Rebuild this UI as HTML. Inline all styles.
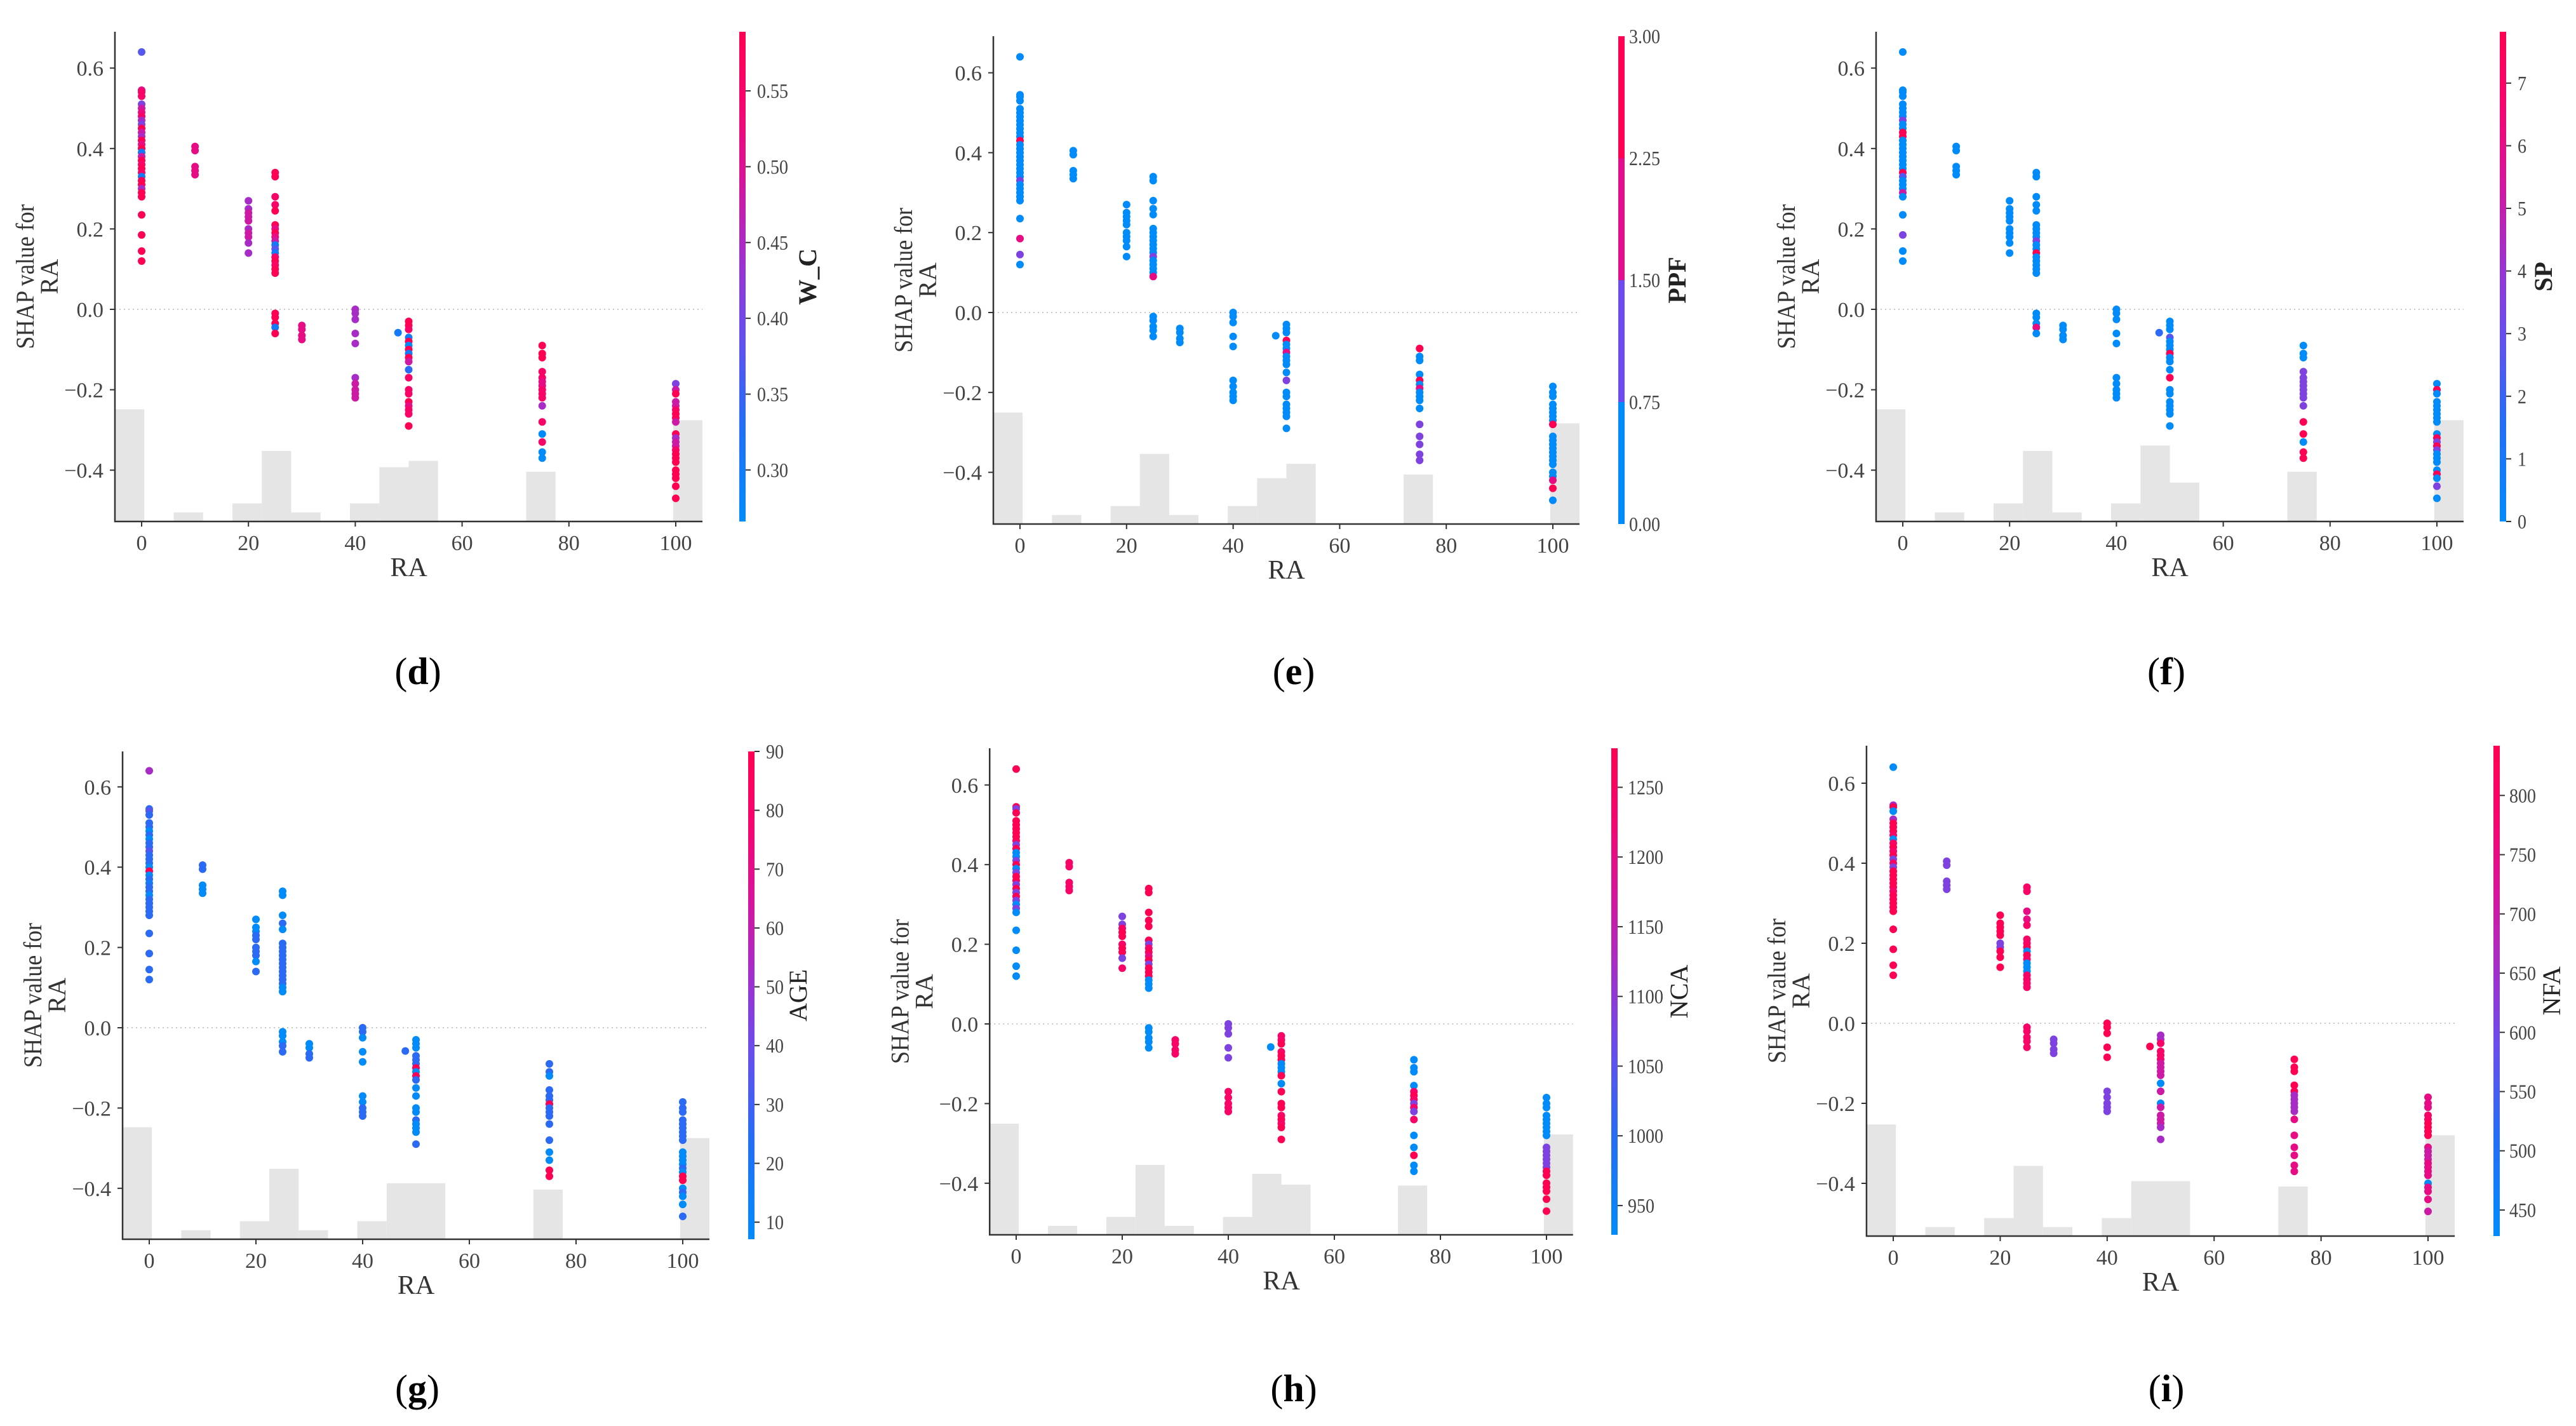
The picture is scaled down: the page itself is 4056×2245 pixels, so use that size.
<!DOCTYPE html>
<html><head><meta charset="utf-8">
<style>
html,body{margin:0;padding:0;background:#fff;}
svg{display:block;}
text{font-family:"Liberation Serif","DejaVu Serif",serif;}
</style></head>
<body>
<svg id="fig" width="4056" height="2245" viewBox="0 0 4056 2245" xmlns="http://www.w3.org/2000/svg">
<rect width="4056" height="2245" fill="#fff"/>
<defs id="defs"></defs>
</svg>
<script>
// ---- shared data ----
const groupX = [0, 10, 20, 25, 30, 40, 48, 50, 75, 100];
const groupY = [
  [0.64,0.545,0.54,0.53,0.51,0.50,0.49,0.48,0.47,0.46,0.45,0.44,0.43,0.42,0.41,0.40,0.39,0.38,0.37,0.36,0.35,0.34,0.33,0.32,0.31,0.30,0.29,0.28,0.235,0.185,0.145,0.12],
  [0.405,0.395,0.355,0.345,0.335],
  [0.27,0.25,0.24,0.23,0.22,0.20,0.19,0.18,0.165,0.14],
  [0.34,0.33,0.28,0.26,0.245,0.21,0.20,0.19,0.18,0.17,0.16,0.15,0.14,0.13,0.12,0.11,0.10,0.09,-0.01,-0.02,-0.035,-0.045,-0.06],
  [-0.04,-0.05,-0.065,-0.075],
  [0,-0.01,-0.025,-0.06,-0.085,-0.17,-0.185,-0.2,-0.21,-0.22],
  [-0.058],
  [-0.03,-0.04,-0.05,-0.07,-0.08,-0.09,-0.10,-0.11,-0.12,-0.13,-0.15,-0.17,-0.2,-0.21,-0.23,-0.24,-0.25,-0.26,-0.29],
  [-0.09,-0.11,-0.12,-0.155,-0.17,-0.18,-0.19,-0.2,-0.21,-0.22,-0.24,-0.28,-0.31,-0.33,-0.355,-0.37],
  [-0.185,-0.2,-0.21,-0.23,-0.24,-0.25,-0.26,-0.27,-0.28,-0.31,-0.32,-0.33,-0.34,-0.35,-0.36,-0.37,-0.38,-0.40,-0.41,-0.42,-0.44,-0.47]
];
const histStart = -5;
const histBinWidth = 5.5;
const histD = [12.4,0,1,0,2,7.8,1,0,2,6.0,6.7,0,0,0,5.5,0,0,0,0,11.2];
const histE = [12.4,0,1,0,2,7.8,1,0,2,5.1,6.7,0,0,0,5.5,0,0,0,0,11.2];
const histF = [12.4,0,1,0,2,7.8,1,0,2,8.4,4.3,0,0,0,5.5,0,0,0,0,11.2];
const histG = [12.4,0,1,0,2,7.8,1,0,2,6.2,6.2,0,0,0,5.5,0,0,0,0,11.2];
const histH = [12.4,0,1,0,2,7.8,1,0,2,6.8,5.6,0,0,0,5.5,0,0,0,0,11.2];
const histI = [12.4,0,1,0,2,7.8,1,0,2,6.1,6.1,0,0,0,5.5,0,0,0,0,11.2];
const histUnit = 0.0225;
// colour levels per point (0 = low/blue ... 9 = high/red)
const colorD = ["37884678549659791698981995999999","77777","5566656655","99889979761318989999919","7777","5555556666","1","9981909196288897889","9998877888580800","4696689969566899999999"];
const colorE = ["00000000000090000000004000000740","00000","0000000000","00000000000040000700000","0000","0000000000","0","0009007000040000000","9000907000044444","0000000090000000000790"];
const colorF = ["00000000400990000000093000600400","00000","0000000000","00000000040090000000070","0000","0000000000","2","0003000900090000000","0004444444499099","0900000000949400009040"];
const colorG = ["52322202022322209021220222222222","22000","0002222202","00020222222222220000022","0022","2200000222","2","0002229092000020002","2202229222220099","2222222220000209902002"];
const colorH = ["99499999994900490499494940400000","88888","4489989948","99999948979499900000000","8888","4444488888","0","8898990009099989899","0000898484800900","0000000004444449999999"];
const colorI = ["05905999808989484999998999999999","44444","9999944999","88778889098000888888888","4444","9999944444","9","5588886666060666655","9999955555777777","7778899997666777707776"];
const xTicks = [0,20,40,60,80,100];
const yTicks = [-0.4,-0.2,0.0,0.2,0.4,0.6];
const cbTicksD = [0.30,0.35,0.40,0.45,0.50,0.55];
const cbTicksE = [0,0.75,1.5,2.25,3.0];
const cbTicksF = [0,1,2,3,4,5,6,7];
const cbTicksG = [10,20,30,40,50,60,70,80,90];
const cbTicksH = [950,1000,1050,1100,1150,1200,1250];
const cbTicksI = [450,500,550,600,650,700,750,800];

// ---- layout ----
const panels = [
 {id:'d',x0:223,x100:1064,T:50,B:821,y0:487,u:633,cb:1164,cbMin:0.266,cbMax:0.589,ticks:cbTicksD,dec:2,title:'W_C',bold:true,titleDx:121,labDx:28,hist:histD,col:colorD,lx:658,ly:1057},
 {id:'e',x0:1606,x100:2445,T:57,B:825,y0:492,u:629,cb:2548,cbMin:0,cbMax:3,ticks:cbTicksE,dec:2,title:'PPF',bold:true,titleDx:106,labDx:17,hist:histE,col:colorE,lx:2037,ly:1057,stepped:true},
 {id:'f',x0:2996,x100:3837,T:50,B:821,y0:487,u:633,cb:3936,cbMin:0,cbMax:7.82,ticks:cbTicksF,dec:0,title:'SP',bold:true,titleDx:82,labDx:28,hist:histF,col:colorF,lx:3411,ly:1057},
 {id:'g',x0:235,x100:1075,T:1183,B:1951,y0:1618,u:632,cb:1178,cbMin:7.1,cbMax:90,ticks:cbTicksG,dec:0,title:'AGE',bold:false,titleDx:92,labDx:28,hist:histG,col:colorG,lx:657,ly:2186},
 {id:'h',x0:1600,x100:2435,T:1178,B:1944,y0:1612,u:627,cb:2537,cbMin:929,cbMax:1278,ticks:cbTicksH,dec:0,title:'NCA',bold:false,titleDx:120,labDx:26,hist:histH,col:colorH,lx:2037,ly:2186},
 {id:'i',x0:2981,x100:3823,T:1174,B:1946,y0:1611,u:630,cb:3926,cbMin:428,cbMax:842,ticks:cbTicksI,dec:0,title:'NFA',bold:false,titleDx:105,labDx:25,hist:histI,col:colorI,lx:3411,ly:2186}
];

const stops = [[0,[0,139,251]],[0.2,[35,110,245]],[0.4,[110,75,235]],[0.55,[165,45,200]],[0.7,[215,20,155]],[0.85,[245,5,110]],[1,[255,0,82]]];
function cmap(t){
  t=Math.max(0,Math.min(1,t));
  for(let k=1;k<stops.length;k++){
    if(t<=stops[k][0]){
      const a=stops[k-1],b=stops[k],f=(t-a[0])/(b[0]-a[0]);
      const c=a[1].map((v,j)=>Math.round(v+(b[1][j]-v)*f));
      return 'rgb('+c.join(',')+')';
    }
  }
  return 'rgb(255,0,82)';
}
const NS='http://www.w3.org/2000/svg';
const svg=document.getElementById('fig');
const defs=document.getElementById('defs');
function mk(tag,attrs,parent){
  const e=document.createElementNS(NS,tag);
  for(const k in attrs) e.setAttribute(k,attrs[k]);
  (parent||svg).appendChild(e);
  return e;
}
function fmtTick(v){
  const s=v.toFixed(1);
  return v<0 ? '\u2212'+s.slice(1) : s;
}
function labelWidth(s){
  let w=0;
  for(const ch of s) w += (ch==='.') ? 7 : 14;
  return w;
}

panels.forEach(p=>{
  const g=mk('g',{});
  
  
  const kx=(p.x100-p.x0)/100;
  const X=v=>p.x0+v*kx;
  const Y=v=>p.y0-v*p.u;
  const L=X(-5), R=X(105);
  const yMin=(p.y0-p.B)/p.u;

  // histogram
  const hg=mk('g',{},g);
  
  
  p.hist.forEach((c,k)=>{
    if(c<=0) return;
    const x1=X(histStart+k*histBinWidth), x2=X(histStart+(k+1)*histBinWidth);
    const top=Y(yMin+c*histUnit);
    const r=mk('rect',{x:x1,y:top,width:x2-x1,height:p.B-top,fill:'#e5e5e5'},hg);
    
    
  });

  // zero line
  const zl=mk('line',{x1:L,x2:R,y1:Y(0),y2:Y(0),stroke:'#c8c8c8','stroke-width':2,'stroke-dasharray':'2,5'},g);
  
  

  // points
  const pg=mk('g',{},g);
  
  
  groupX.forEach((gx,gi)=>{
    const cs=p.col[gi]||'';
    groupY[gi].forEach((yv,k)=>{
      const d=parseInt(cs[k]!==undefined?cs[k]:(cs[cs.length-1]||'0'),10);
      const c=mk('circle',{cx:X(gx),cy:Y(yv),r:6,fill:cmap(d/9)},pg);
      
      
    });
  });

  // spines
  const sp=mk('path',{d:`M${L},${p.T} L${L},${p.B} L${R},${p.B}`,fill:'none',stroke:'#333','stroke-width':2.5},g);
  
  

  // y ticks
  yTicks.forEach(v=>{
    const y=Y(v);
    mk('line',{x1:L-8,x2:L,y1:y,y2:y,stroke:'#333','stroke-width':2},g);
    const t=mk('text',{x:L-18,y:y+12,'font-size':34,fill:'#444','text-anchor':'end'},g);
    t.textContent=fmtTick(v);
    
    
  });
  // x ticks
  xTicks.forEach(v=>{
    const x=X(v);
    mk('line',{x1:x,x2:x,y1:p.B,y2:p.B+8,stroke:'#333','stroke-width':2},g);
    const t=mk('text',{x:x,y:p.B+45,'font-size':34,fill:'#444','text-anchor':'middle'},g);
    t.textContent=String(v);
    
    
  });
  const xl=mk('text',{x:(L+R)/2,y:p.B+86,'font-size':42,fill:'#333','text-anchor':'middle'},g);
  xl.textContent='RA';
  
  
  const cy=(p.T+p.B)/2;
  const yl1=mk('text',{x:L-128,y:cy,'font-size':40,fill:'#333','text-anchor':'middle',textLength:228,lengthAdjust:'spacingAndGlyphs',transform:`rotate(-90 ${L-128} ${cy})`},g);
  yl1.textContent='SHAP value for';
  
  
  const yl2=mk('text',{x:L-90,y:cy,'font-size':40,fill:'#333','text-anchor':'middle',transform:`rotate(-90 ${L-90} ${cy})`},g);
  yl2.textContent='RA';
  
  

  // colorbar
  const gid='grad-'+p.id;
  const lg=mk('linearGradient',{id:gid,x1:0,y1:1,x2:0,y2:0},defs);
  if(p.stepped){
    const bands=[0,0.4,0.75,1];
    bands.forEach((t,k)=>{
      mk('stop',{offset:k/4,'stop-color':cmap(t)},lg);
      mk('stop',{offset:(k+1)/4,'stop-color':cmap(t)},lg);
    });
  } else {
    for(let k=0;k<=20;k++) mk('stop',{offset:k/20,'stop-color':cmap(k/20)},lg);
  }
  const cbr=mk('rect',{x:p.cb,y:p.T,width:10,height:p.B-p.T,fill:`url(#${gid})`},g);
  
  
  const CY=v=>p.B-(v-p.cbMin)/(p.cbMax-p.cbMin)*(p.B-p.T);
  p.ticks.forEach(v=>{
    const y=CY(v);
    if(!p.stepped) mk('line',{x1:p.cb+10,x2:p.cb+18,y1:y,y2:y,stroke:'#333','stroke-width':2},g);
    const s=v.toFixed(p.dec);
    const t=mk('text',{x:p.cb+p.labDx,y:y+11,'font-size':32,fill:'#444',textLength:labelWidth(s),lengthAdjust:'spacingAndGlyphs'},g);
    t.textContent=s;
    
    
  });
  const tx=p.cb+p.titleDx;
  const ct=mk('text',{x:tx,y:cy,'font-size':40,fill:'#222','text-anchor':'middle','font-weight':p.bold?'bold':'normal',transform:`rotate(-90 ${tx} ${cy})`},g);
  ct.textContent=p.title;
  
  

  // panel label
  const pl=mk('text',{x:p.lx,y:p.ly+20,'font-size':60,fill:'#000','text-anchor':'middle'},g);
  
  
  const t1=mk('tspan',{},pl); t1.textContent='(';
  const t2=mk('tspan',{'font-weight':'bold'},pl); t2.textContent=p.id;
  const t3=mk('tspan',{},pl); t3.textContent=')';
});
</script>
</body></html>
